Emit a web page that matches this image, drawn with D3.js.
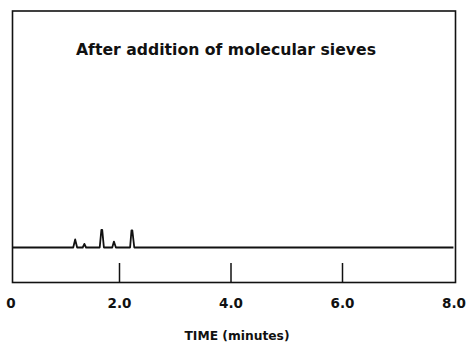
<!DOCTYPE html>
<html>
<head>
<meta charset="utf-8">
<script src="https://cdn.jsdelivr.net/npm/d3@7"></script>
<style>
  html, body { margin: 0; padding: 0; background: #fff; }
  svg { display: block; }
  text { font-family: "DejaVu Sans", "Liberation Sans", Arial, sans-serif; font-weight: bold; fill: #111; }
</style>
</head>
<body>
<svg id="chart" width="469" height="342"></svg>
<script>
// ---- data ----
const title = "After addition of molecular sieves";
const xLabel = "TIME (minutes)";
const tickValues = [0, 2, 4, 6, 8];
const tickLabels = ["0", "2.0", "4.0", "6.0", "8.0"];
const innerTicks = [2, 4, 6];
// chromatogram trace: retention time (min) and detector signal (arb. units)
const traceTime   = [0.08, 1.17, 1.205, 1.24, 1.34, 1.37, 1.40, 1.645, 1.675, 1.69, 1.72, 1.87, 1.90, 1.935, 2.19, 2.215, 2.23, 2.265, 7.99];
const traceSignal = [0,    0,    3.4,   0,    0,    1.5,  0,    0,     7.4,   7.4,  0,    0,    2.5,  0,     0,    7.2,   7.2,  0,     0];

// ---- layout ----
const svg = d3.select("#chart");
const x = d3.scaleLinear().domain([0, 8]).range([8, 454]);
const y = d3.scaleLinear().domain([0, 100]).range([247.5, 10]);

const frame = { left: 12.5, right: 455.5, top: 11, bottom: 282.5 };

// outer frame
svg.append("rect")
  .attr("x", frame.left).attr("y", frame.top)
  .attr("width", frame.right - frame.left)
  .attr("height", frame.bottom - frame.top)
  .attr("fill", "none").attr("stroke", "#111").attr("stroke-width", 1.6);

// trace
const pts = traceTime.map((t, i) => [t, traceSignal[i]]);
svg.append("path")
  .datum(pts)
  .attr("fill", "none").attr("stroke", "#111").attr("stroke-width", 1.8)
  .attr("stroke-linejoin", "round")
  .attr("d", d3.line().x(d => x(d[0])).y(d => y(d[1])));

// ticks hanging up from the bottom of the frame
svg.selectAll(".tick-mark").data(innerTicks).enter().append("line")
  .attr("x1", d => x(d)).attr("x2", d => x(d))
  .attr("y1", frame.bottom).attr("y2", 263)
  .attr("stroke", "#111").attr("stroke-width", 1.5);

// tick labels
svg.selectAll(".tick-label").data(tickValues).enter().append("text")
  .attr("x", d => x(d) + (d === 0 ? 3 : 0)).attr("y", 308)
  .attr("text-anchor", "middle")
  .attr("font-size", 13.5)
  .text((d, i) => tickLabels[i]);

// axis title
svg.append("text")
  .attr("x", 237).attr("y", 339.5)
  .attr("text-anchor", "middle")
  .attr("font-size", 13)
  .attr("textLength", 105).attr("lengthAdjust", "spacingAndGlyphs")
  .text(xLabel);

// chart title
svg.append("text")
  .attr("x", 76).attr("y", 54.5)
  .attr("font-size", 15.5)
  .attr("textLength", 300).attr("lengthAdjust", "spacingAndGlyphs")
  .text(title);
</script>
</body>
</html>
